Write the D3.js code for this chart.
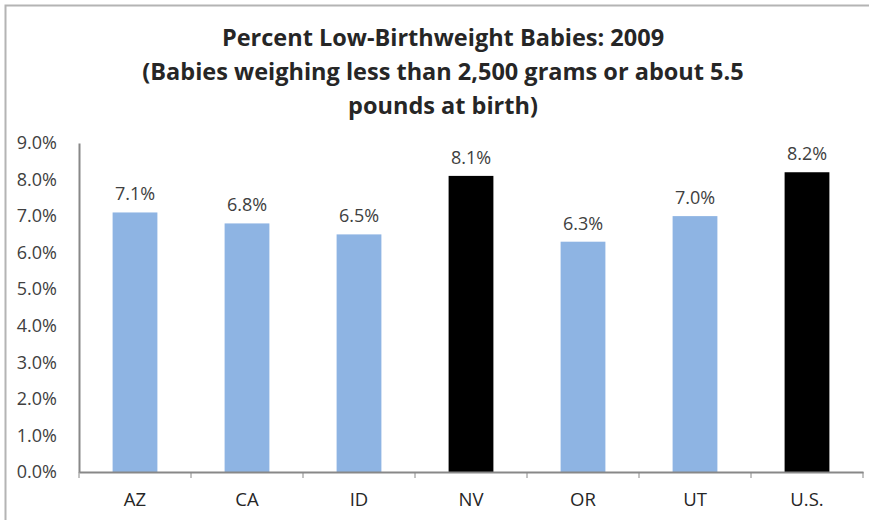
<!DOCTYPE html>
<html>
<head>
<meta charset="utf-8">
<script src="https://cdn.jsdelivr.net/npm/d3@7"></script>
<style>
  body { margin: 0; background: #fff; }
  text { font-family: "Open Sans", sans-serif; }
</style>
</head>
<body>
<div id="cntr"></div>
<script>
const width = 869;
const height = 520;

// chart data
const states = ["AZ", "CA", "ID", "NV", "OR", "UT", "U.S."];
const lowBirthweight = [7.1, 6.8, 6.5, 8.1, 6.3, 7.0, 8.2];
const highlighted = ["NV", "U.S."];
const yTicks = [0, 1, 2, 3, 4, 5, 6, 7, 8, 9];
const titleLines = [
    "Percent Low-Birthweight Babies: 2009",
    "(Babies weighing less than 2,500 grams or about 5.5",
    "pounds at birth)"
];

const margin = {top: 143, right: 6, bottom: 48, left: 79};

const svg = d3.select("#cntr")
    .append("svg")
    .attr("width", width)
    .attr("height", height);

// outer frame (right and bottom edges fall outside the picture)
svg.append("rect")
    .attr("x", 5.5)
    .attr("y", 5.5)
    .attr("width", width + 10)
    .attr("height", height + 10)
    .style("fill", "none")
    .style("stroke", "#b4b4b4")
    .style("stroke-width", 2);

// title
svg.append("g")
    .selectAll("text")
    .data(titleLines)
    .join("text")
        .attr("x", 443)
        .attr("y", (d, i) => 46 + i * 34)
        .style("text-anchor", "middle")
        .style("font-weight", "bold")
        .style("font-size", "23.5px")
        .style("fill", "#262626")
        .text(d => d);

const x = d3.scaleBand()
    .domain(states)
    .range([margin.left, width - margin.right])
    .paddingInner(0.6)
    .paddingOuter(0.3);

const y = d3.scaleLinear()
    .domain([0, 9])
    .range([height - margin.bottom, margin.top]);

const data = states.map((s, i) => ({state: s, value: lowBirthweight[i]}));

// bars
svg.append("g")
    .selectAll("rect")
    .data(data)
    .join("rect")
        .attr("x", d => x(d.state))
        .attr("y", d => y(d.value))
        .attr("width", x.bandwidth())
        .attr("height", d => y(0) - y(d.value))
        .style("fill", d => highlighted.includes(d.state) ? "#000000" : "#8eb4e3");

// value labels
svg.append("g")
    .selectAll("text")
    .data(data)
    .join("text")
        .attr("x", d => x(d.state) + x.bandwidth() / 2)
        .attr("y", d => y(d.value) - 12)
        .style("text-anchor", "middle")
        .style("font-size", "18px")
        .style("fill", "#404040")
        .text(d => d.value.toFixed(1) + "%");

// y axis
const yAxis = svg.append("g")
    .attr("transform", "translate(" + margin.left + ",0)")
    .call(d3.axisLeft(y).tickValues(yTicks).tickSize(0).tickPadding(22)
        .tickFormat(d => d.toFixed(1) + "%"));
yAxis.select(".domain").style("stroke", "#888").style("stroke-width", 2);
yAxis.selectAll("text")
    .style("font-family", "'Open Sans', sans-serif")
    .style("font-size", "18px")
    .style("fill", "#404040");

// x axis
const xAxis = svg.append("g")
    .attr("transform", "translate(0," + y(0) + ")")
    .call(d3.axisBottom(x).tickSize(0).tickPadding(21).tickSizeOuter(0));
xAxis.select(".domain").style("stroke", "#888").style("stroke-width", 2);
xAxis.selectAll("text")
    .style("font-family", "'Open Sans', sans-serif")
    .style("font-size", "18.5px")
    .style("fill", "#262626");

// category separator ticks below the x axis
const step = x.step();
const boundaries = states.map(s => x(s) - (step - x.bandwidth()) / 2)
    .concat([width - margin.right]);
xAxis.selectAll(".sep")
    .data(boundaries)
    .join("line")
        .attr("class", "sep")
        .attr("x1", d => d)
        .attr("x2", d => d)
        .attr("y1", 0)
        .attr("y2", 6)
        .style("stroke", "#888")
        .style("stroke-width", 1);
</script>
</body>
</html>
